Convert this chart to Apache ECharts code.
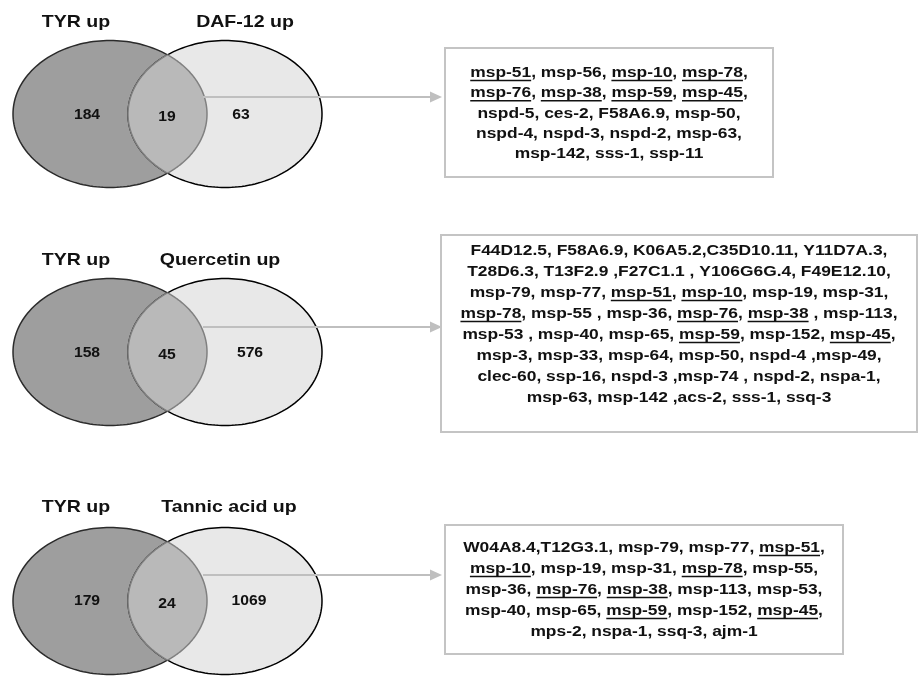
<!DOCTYPE html>
<html><head><meta charset="utf-8">
<script src="https://cdn.jsdelivr.net/npm/echarts@6/dist/echarts.min.js"></script>
<style>html,body{margin:0;padding:0;background:#fff}#c{width:918px;height:676px}</style>
</head><body><div id="c"></div>
<script>
// ---- data ----
const setA = ['TYR up', 'TYR up', 'TYR up'];
const setB = ['DAF-12 up', 'Quercetin up', 'Tannic acid up'];
const onlyA = [184, 158, 179];
const shared = [19, 45, 24];
const onlyB = [63, 576, 1069];
const genesDAF12 = [
  'msp-51, msp-56, msp-10, msp-78,',
  'msp-76, msp-38, msp-59, msp-45,',
  'nspd-5, ces-2, F58A6.9, msp-50,',
  'nspd-4, nspd-3, nspd-2, msp-63,',
  'msp-142, sss-1, ssp-11'
];
const genesQuercetin = [
  'F44D12.5, F58A6.9, K06A5.2,C35D10.11, Y11D7A.3,',
  'T28D6.3, T13F2.9 ,F27C1.1 , Y106G6G.4, F49E12.10,',
  'msp-79, msp-77, msp-51, msp-10, msp-19, msp-31,',
  'msp-78, msp-55 , msp-36, msp-76, msp-38 , msp-113,',
  'msp-53 , msp-40, msp-65, msp-59, msp-152, msp-45,',
  'msp-3, msp-33, msp-64, msp-50, nspd-4 ,msp-49,',
  'clec-60, ssp-16, nspd-3 ,msp-74 , nspd-2, nspa-1,',
  'msp-63, msp-142 ,acs-2, sss-1, ssq-3'
];
const genesTannic = [
  'W04A8.4,T12G3.1, msp-79, msp-77, msp-51,',
  'msp-10, msp-19, msp-31, msp-78, msp-55,',
  'msp-36, msp-76, msp-38, msp-113, msp-53,',
  'msp-40, msp-65, msp-59, msp-152, msp-45,',
  'mps-2, nspa-1, ssq-3, ajm-1'
];
const geneLists = [genesDAF12, genesQuercetin, genesTannic];
const underlinedGenes = ['msp-51', 'msp-10', 'msp-78', 'msp-76', 'msp-38', 'msp-59', 'msp-45'];

// ---- layout / style ----
const FAM = '"Liberation Sans", Arial, Helvetica, sans-serif';
const F_TITLE = 'bold 17px ' + FAM;
const F_NUM = 'bold 14px ' + FAM;
const F_GENE = 'bold 15px ' + FAM;
const SX_TITLE = 1.15, SX_NUM = 1.12, SX_GENE = 1.16;
const LAY = {
  cxA: 110, cxB: 225, rx: 97, ry: 73.5,
  cy: [114, 352, 601],
  titleY: [22, 260, 507],
  titleAX: 76, titleBX: [245, 220, 229],
  numAX: 87, numSX: 167, numBX: [241, 250, 249],
  numDy: [1, 1, 0], numSDy: [3, 3, 3],
  arrowY: [97, 327, 575], arrowX0: 203, arrowX1: 442,
  box: [[445, 48, 328, 129], [441, 235, 476, 197], [445, 525, 398, 129]],
  firstLineY: [73, 251, 548], lineH: [20.3, 21, 21]
};

const mctx = document.createElement('canvas').getContext('2d');
function tw(s, font) { mctx.font = font; return mctx.measureText(s).width; }

function renderItem(params, api) {
  const i = params.dataIndex;
  const P = (x, y) => api.coord([x, y]);
  const cy = LAY.cy[i];
  const ch = [];
  const ell = (cx) => {
    const pts = [];
    for (let k = 0; k < 180; k++) {
      const t = k / 180 * Math.PI * 2;
      pts.push(P(cx + LAY.rx * Math.cos(t), cy + LAY.ry * Math.sin(t)));
    }
    return pts;
  };
  const inside = (x, y, cx) => ((x - cx) / LAY.rx) ** 2 + ((y - cy) / LAY.ry) ** 2 <= 1;
  ch.push({ type: 'polygon', shape: { points: ell(LAY.cxA) }, style: { fill: '#9e9e9e', stroke: '#2b2b2b', lineWidth: 1.5 } });
  ch.push({ type: 'polygon', shape: { points: ell(LAY.cxB) }, style: { fill: '#e8e8e8', stroke: '#000', lineWidth: 1.5 } });
  // lens
  const lens = [];
  const N = 720;
  for (let k = 0; k <= N; k++) {
    const t = -Math.PI + k / N * 2 * Math.PI;
    const x = LAY.cxA + LAY.rx * Math.cos(t), y = cy + LAY.ry * Math.sin(t);
    if (inside(x, y, LAY.cxB)) lens.push(P(x, y));
  }
  for (let k = 0; k <= N; k++) {
    const t = k / N * 2 * Math.PI;
    const x = LAY.cxB + LAY.rx * Math.cos(t), y = cy + LAY.ry * Math.sin(t);
    if (inside(x, y, LAY.cxA)) lens.push(P(x, y));
  }
  ch.push({ type: 'polygon', shape: { points: lens }, style: { fill: '#b9b9b9', stroke: '#808080', lineWidth: 1.5 } });

  const txt = (x, y, s, font, sx) => {
    const p = P(x, y);
    return { type: 'text', x: p[0], y: p[1], scaleX: sx, style: { text: String(s), font, fill: '#111', align: 'center', verticalAlign: 'middle' } };
  };
  ch.push(txt(LAY.titleAX, LAY.titleY[i], setA[i], F_TITLE, SX_TITLE));
  ch.push(txt(LAY.titleBX[i], LAY.titleY[i], setB[i], F_TITLE, SX_TITLE));
  ch.push(txt(LAY.numAX, cy + LAY.numDy[i], api.value(0), F_NUM, SX_NUM));
  ch.push(txt(LAY.numSX, cy + LAY.numSDy[i], api.value(1), F_NUM, SX_NUM));
  ch.push(txt(LAY.numBX[i], cy + LAY.numDy[i], api.value(2), F_NUM, SX_NUM));

  // arrow
  const ay = LAY.arrowY[i];
  const a0 = P(LAY.arrowX0, ay), a1 = P(LAY.arrowX1 - 11, ay);
  ch.push({ type: 'line', shape: { x1: a0[0], y1: a0[1], x2: a1[0], y2: a1[1] }, style: { stroke: '#bfbfbf', lineWidth: 2 } });
  ch.push({ type: 'polygon', shape: { points: [P(LAY.arrowX1 - 12, ay - 5.5), P(LAY.arrowX1, ay), P(LAY.arrowX1 - 12, ay + 5.5)] }, style: { fill: '#bfbfbf' } });

  // box
  const b = LAY.box[i];
  const b0 = P(b[0], b[1]), b1 = P(b[0] + b[2], b[1] + b[3]);
  ch.push({ type: 'rect', shape: { x: b0[0], y: b0[1], width: b1[0] - b0[0], height: b1[1] - b0[1] }, style: { fill: '#fff', stroke: '#c4c4c4', lineWidth: 2 } });
  const cxBox = b[0] + b[2] / 2;
  geneLists[i].forEach((line, k) => {
    const y = LAY.firstLineY[i] + k * LAY.lineH[i];
    const W = tw(line, F_GENE) * SX_GENE;
    const sx0 = cxBox - W / 2;
    const p = P(sx0, y);
    ch.push({ type: 'text', x: p[0], y: p[1], scaleX: SX_GENE, style: { text: line, font: F_GENE, fill: '#111', align: 'left', verticalAlign: 'middle' } });
    underlinedGenes.forEach(g => {
      const re = new RegExp(g.replace(/[-.]/g, '\\$&') + '(?![0-9])', 'g');
      let m;
      while ((m = re.exec(line)) !== null) {
        const pw = tw(line.slice(0, m.index), F_GENE) * SX_GENE;
        const gw = tw(g, F_GENE) * SX_GENE;
        const u0 = P(sx0 + pw, y + 7.5), u1 = P(sx0 + pw + gw, y + 7.5);
        ch.push({ type: 'line', shape: { x1: u0[0], y1: u0[1], x2: u1[0], y2: u1[1] }, style: { stroke: '#111', lineWidth: 1.5 } });
      }
    });
  });
  return { type: 'group', children: ch };
}

const chart = echarts.init(document.getElementById('c'), null, { renderer: 'canvas' });
chart.setOption({
  animation: false,
  backgroundColor: '#fff',
  grid: { left: 0, right: 0, top: 0, bottom: 0 },
  xAxis: { type: 'value', min: 0, max: 918, show: false },
  yAxis: { type: 'value', min: 0, max: 676, inverse: true, show: false },
  series: [{
    type: 'custom',
    coordinateSystem: 'cartesian2d',
    clip: false,
    renderItem,
    encode: { x: -1, y: -1 },
    data: onlyA.map((v, i) => [v, shared[i], onlyB[i]])
  }]
});
</script></body></html>
